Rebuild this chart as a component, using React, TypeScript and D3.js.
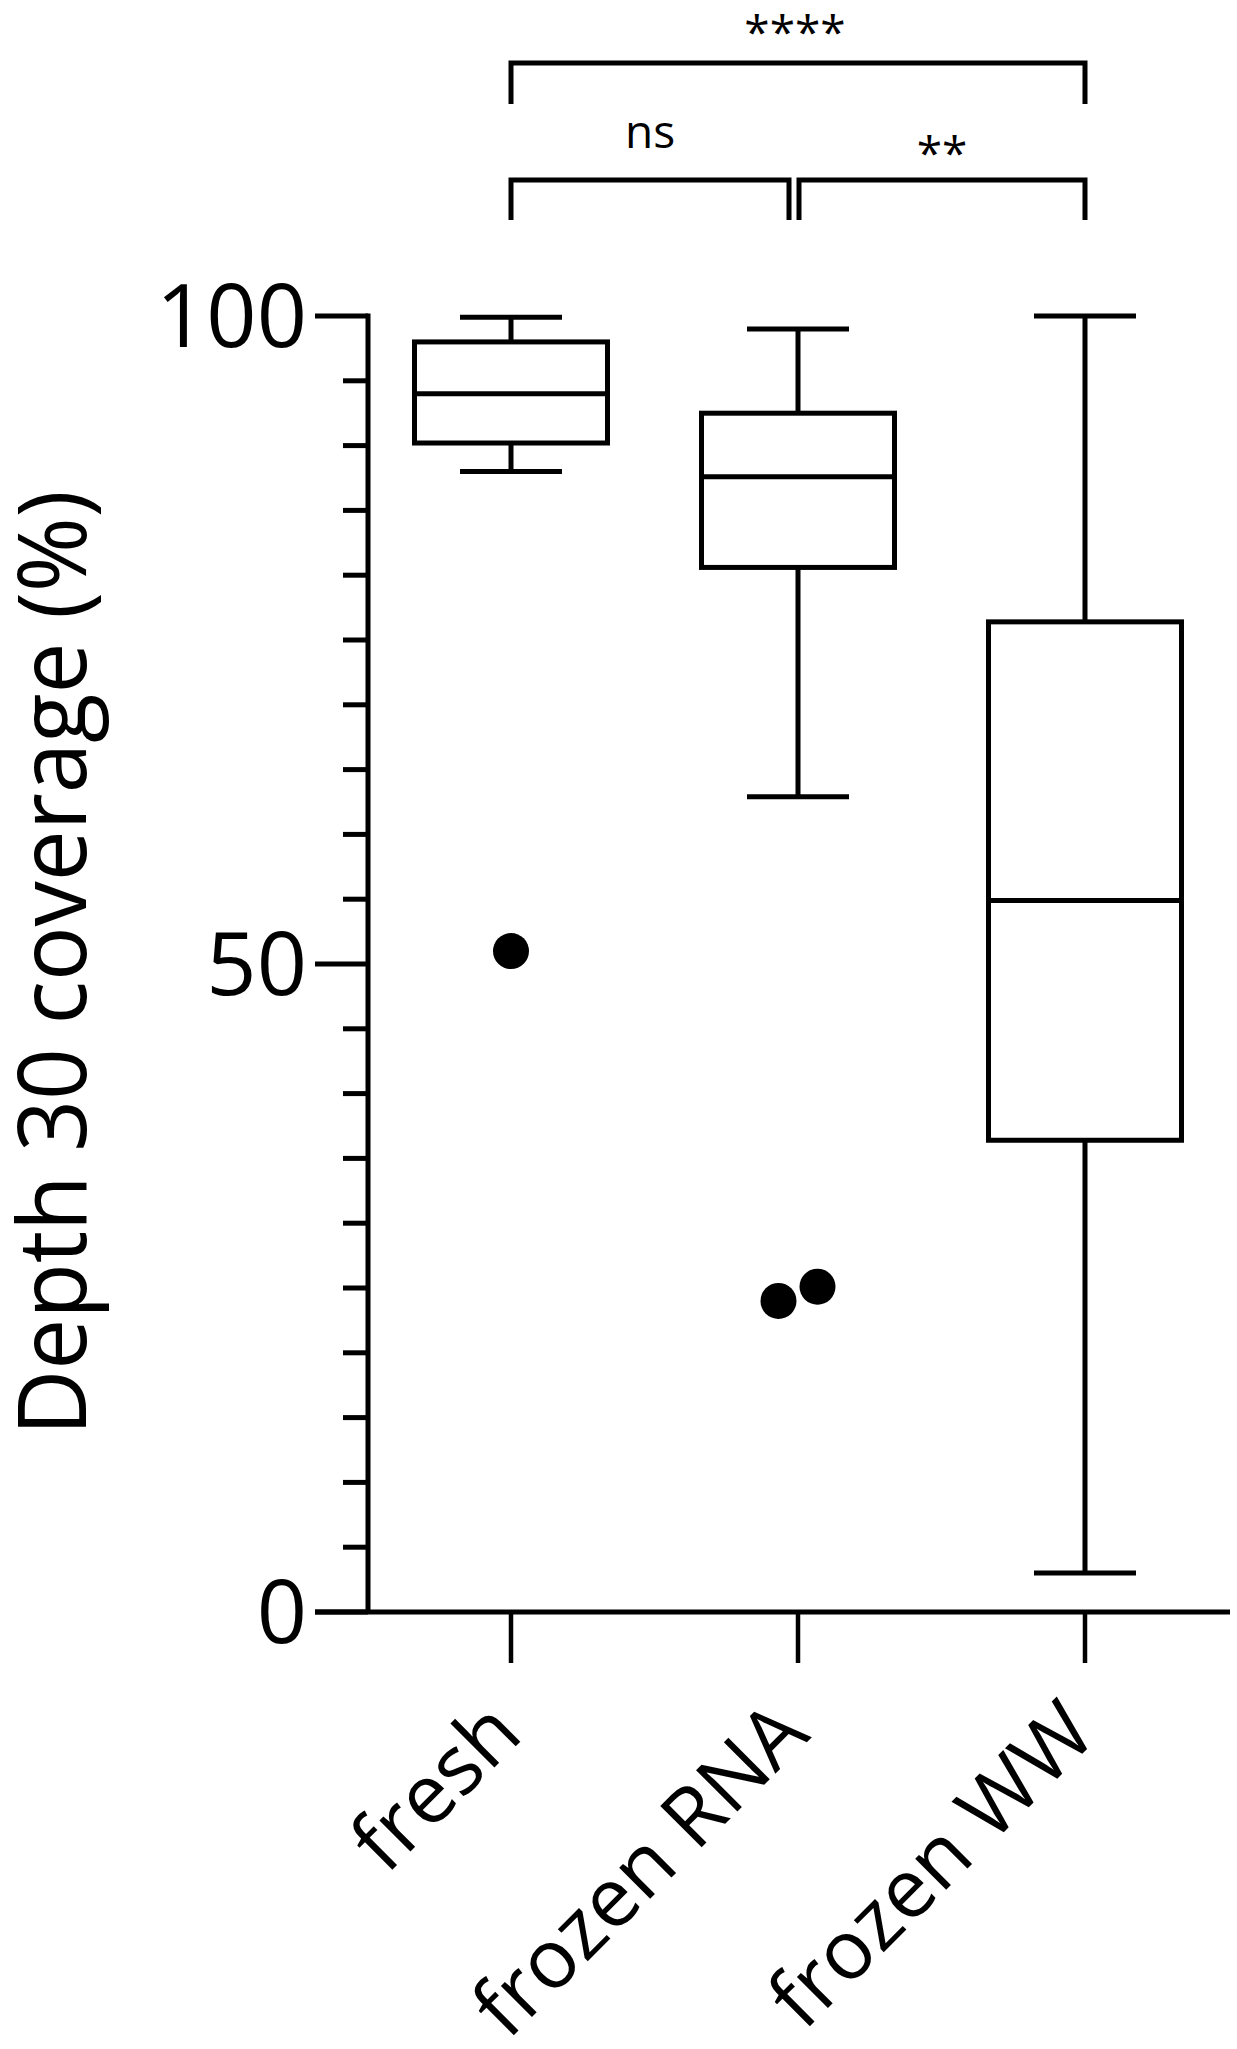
import React from "react";
import * as d3 from "d3";

const categories = ["fresh", "frozen RNA", "frozen WW"];
const whiskerLow = [88.0, 62.9, 3.0];
const quartile1 = [90.2, 80.6, 36.4];
const medians = [94.0, 87.6, 54.9];
const quartile3 = [98.0, 92.5, 76.4];
const whiskerHigh = [99.9, 99.0, 100.0];
const outliers = [[51.0], [24.0, 25.1], []];
const yTickLabels = [0, 50, 100];
const comparisons = [
  { from: 0, to: 2, label: "****", level: 0 },
  { from: 0, to: 1, label: "ns", level: 1 },
  { from: 1, to: 2, label: "**", level: 1 },
];
const yTitle = "Depth 30 coverage (%)";

export default function App() {
  const W = 1237;
  const H = 2049;
  const font = "'Open Sans', 'Noto Sans', sans-serif";
  const y = d3.scaleLinear().domain([0, 100]).range([1612, 316]);
  const x = d3.scalePoint<string>().domain(categories).range([511, 1085]);
  const axisX = 368;
  const boxW = 193;
  const capW = 102;
  const sw = 5;
  const minor = d3.range(0, 101, 5);

  const bracketY = [63, 180];
  const dropY = [104, 220];

  return (
    <svg width={W} height={H} style={{ position: "absolute", left: 0, top: 0, background: "#fff" }}>
      {/* y axis */}
      <line x1={axisX} x2={axisX} y1={y(100) - 2.5} y2={y(0)} stroke="#000" strokeWidth={sw} />
      {minor.map((v) => {
        const major = yTickLabels.includes(v);
        return (
          <line key={v} x1={major ? 315 : 343} x2={axisX} y1={y(v)} y2={y(v)} stroke="#000" strokeWidth={sw} />
        );
      })}
      {yTickLabels.map((v) => (
        <text key={v} x={307} y={y(v)} dy="0.35em" textAnchor="end" fontFamily={font} fontSize={88} fill="#000">
          {v}
        </text>
      ))}
      <text
        transform={`translate(86, 963) rotate(-90)`}
        textAnchor="middle"
        fontFamily={font}
        fontSize={96}
        textLength={945}
        lengthAdjust="spacingAndGlyphs"
        fill="#000"
      >
        {yTitle}
      </text>
      {/* x axis */}
      <line x1={315} x2={1230} y1={y(0)} y2={y(0)} stroke="#000" strokeWidth={sw} />
      {categories.map((c) => (
        <g key={c}>
          <line x1={x(c)} x2={x(c)} y1={y(0)} y2={1663} stroke="#000" strokeWidth={4.5} />
          <text
            transform={`translate(${(x(c) as number) + 14}, 1737) rotate(-45)`}
            textAnchor="end"
            fontFamily={font}
            fontSize={82}
            fill="#000"
          >
            {c}
          </text>
        </g>
      ))}
      {/* boxes */}
      {categories.map((c, i) => {
        const cx = x(c) as number;
        return (
          <g key={c} stroke="#000" strokeWidth={sw} fill="none">
            <line x1={cx} x2={cx} y1={y(whiskerHigh[i])} y2={y(quartile3[i])} />
            <line x1={cx} x2={cx} y1={y(quartile1[i])} y2={y(whiskerLow[i])} />
            <line x1={cx - capW / 2} x2={cx + capW / 2} y1={y(whiskerHigh[i])} y2={y(whiskerHigh[i])} />
            <line x1={cx - capW / 2} x2={cx + capW / 2} y1={y(whiskerLow[i])} y2={y(whiskerLow[i])} />
            <rect x={cx - boxW / 2} y={y(quartile3[i])} width={boxW} height={y(quartile1[i]) - y(quartile3[i])} fill="#fff" />
            <line x1={cx - boxW / 2} x2={cx + boxW / 2} y1={y(medians[i])} y2={y(medians[i])} />
            {outliers[i].map((v, k) => {
              const n = outliers[i].length;
              const off = n > 1 ? (k - (n - 1) / 2) * 39 : 0;
              return <circle key={k} cx={cx + off} cy={y(v)} r={18} fill="#000" stroke="none" />;
            })}
          </g>
        );
      })}
      {/* significance brackets */}
      {comparisons.map((cmp, i) => {
        const x1 = (x(categories[cmp.from]) as number) + (cmp.level === 1 && cmp.from === 1 ? 1 : 0);
        const x2 = (x(categories[cmp.to]) as number) - (cmp.level === 1 && cmp.to === 1 ? 9 : 0);
        const by = bracketY[cmp.level];
        const dy = dropY[cmp.level];
        const isStar = cmp.label.startsWith("*");
        const tx = (x1 + x2) / 2 + (cmp.level === 0 ? -3 : 0);
        return (
          <g key={i}>
            <path d={`M${x1},${dy} V${by} H${x2} V${dy}`} fill="none" stroke="#000" strokeWidth={sw} strokeLinejoin="miter" />
            <text
              x={tx}
              y={by - (isStar ? (cmp.level === 0 ? 14 : 10) : 32)}
              textAnchor="middle"
              fontFamily={font}
              fontSize={46}
              fill="#000"
            >
              {cmp.label}
            </text>
          </g>
        );
      })}
    </svg>
  );
}
